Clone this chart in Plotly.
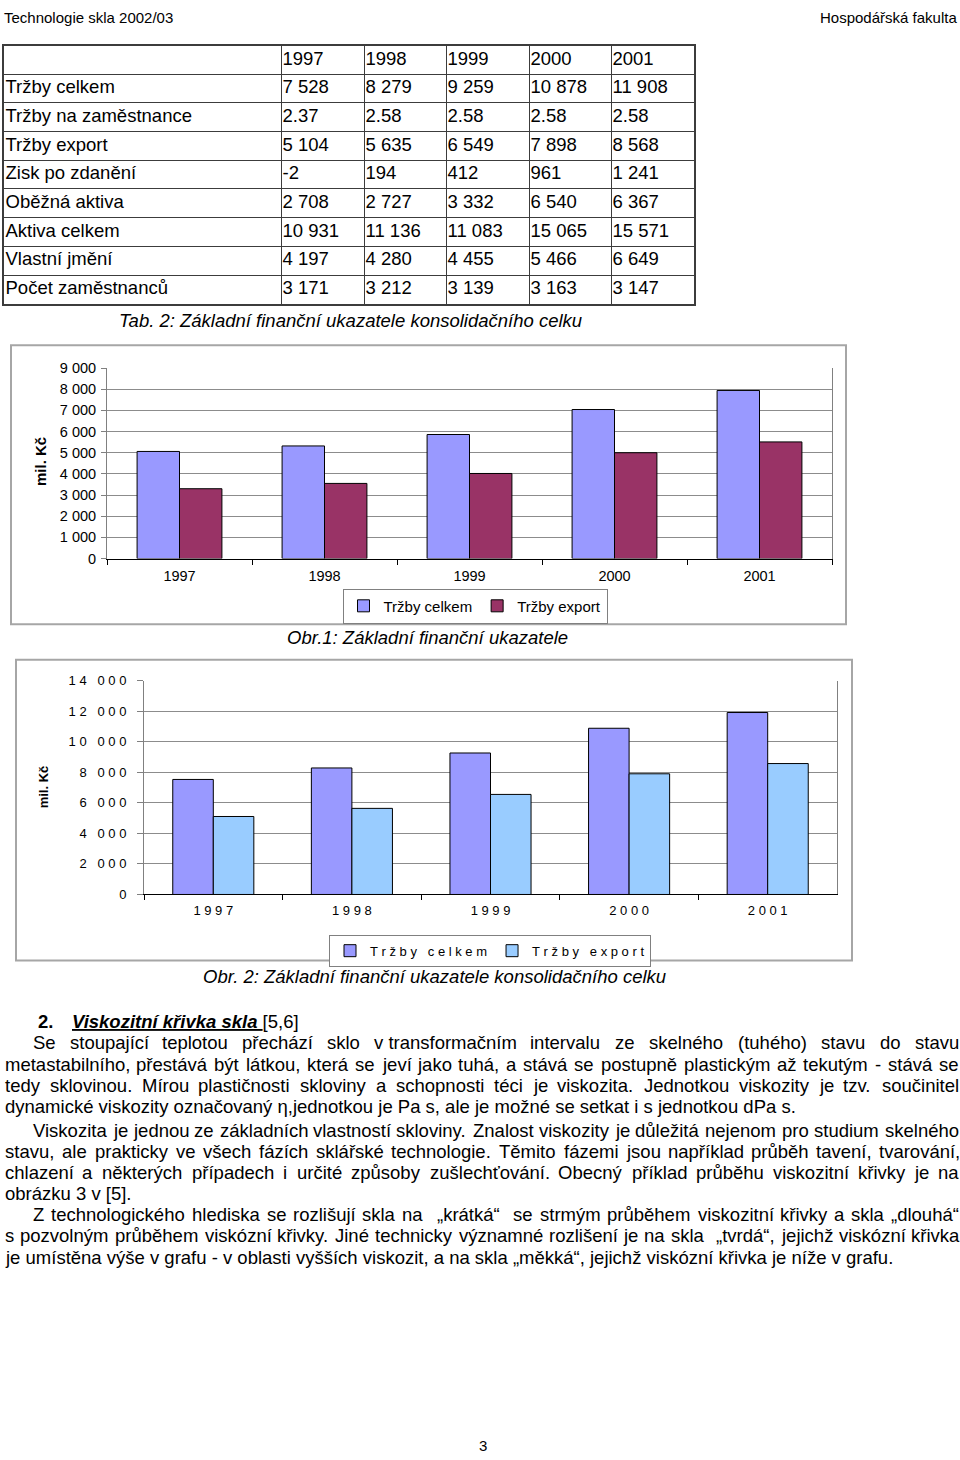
import unicodedata
import plotly.graph_objects as go

W, H = 960, 1460
FONT = "Liberation Sans, Arial, sans-serif"

# ---------------- data ----------------
years = ["1997", "1998", "1999", "2000", "2001"]
row_labels = ["Tržby celkem", "Tržby na zaměstnance", "Tržby export", "Zisk po zdanění",
              "Oběžná aktiva", "Aktiva celkem", "Vlastní jmění", "Počet zaměstnanců"]
trzby_celkem = [7528, 8279, 9259, 10878, 11908]
trzby_na_zamestnance = [2.37, 2.58, 2.58, 2.58, 2.58]
trzby_export = [5104, 5635, 6549, 7898, 8568]
zisk_po_zdaneni = [-2, 194, 412, 961, 1241]
obezna_aktiva = [2708, 2727, 3332, 6540, 6367]
aktiva_celkem = [10931, 11136, 11083, 15065, 15571]
vlastni_jmeni = [4197, 4280, 4455, 5466, 6649]
pocet_zamestnancu = [3171, 3212, 3139, 3163, 3147]

# chart 1 (values as drawn in Obr. 1)
obr1_celkem = [5060, 5320, 5860, 7040, 7940]
obr1_export = [3300, 3550, 4020, 5000, 5510]

obr1_ticks = [0, 1000, 2000, 3000, 4000, 5000, 6000, 7000, 8000, 9000]
obr1_ticktext = ["0", "1 000", "2 000", "3 000", "4 000", "5 000", "6 000", "7 000", "8 000", "9 000"]
obr2_ticks = [0, 2000, 4000, 6000, 8000, 10000, 12000, 14000]
obr2_ticktext = ["0", "2 000", "4 000", "6 000", "8 000", "10 000", "12 000", "14 000"]

series_names = ["Tržby celkem", "Tržby export"]

# ---------------- helpers ----------------
ARIAL = {
    'a': 556, 'b': 556, 'c': 500, 'd': 556, 'e': 556, 'f': 278, 'g': 556, 'h': 556, 'i': 222,
    'j': 222, 'k': 500, 'l': 222, 'm': 833, 'n': 556, 'o': 556, 'p': 556, 'q': 556, 'r': 333,
    's': 500, 't': 278, 'u': 556, 'v': 500, 'w': 722, 'x': 500, 'y': 500, 'z': 500,
    'A': 667, 'B': 667, 'C': 722, 'D': 722, 'E': 667, 'F': 611, 'G': 778, 'H': 722, 'I': 278,
    'J': 500, 'K': 667, 'L': 556, 'M': 833, 'N': 722, 'O': 778, 'P': 667, 'Q': 778, 'R': 722,
    'S': 667, 'T': 611, 'U': 722, 'V': 667, 'W': 944, 'X': 667, 'Y': 667, 'Z': 611,
    ' ': 278, '\u00a0': 278, '.': 278, ',': 278, '-': 333, '(': 333, ')': 333, '[': 278, ']': 278,
    ':': 278, '„': 333, '“': 333, '/': 278, 'η': 556, 'ť': 367, 'ď': 615,
}
for d in "0123456789":
    ARIAL[d] = 556


def cw(c):
    if c in ARIAL:
        return ARIAL[c]
    base = unicodedata.normalize('NFD', c)[0]
    return ARIAL.get(base, 556)


def tw(s, size):
    return sum(cw(c) for c in s) * size / 1000.0


def spaced(s):
    return "\u00a0".join("\u00a0" if c == " " else c for c in s)


def fmt(v):
    if isinstance(v, float):
        return f"{v:.2f}"
    return f"{v:,}".replace(",", " ")


annotations = []


def ann(text, x, y, size=18.5, xanchor='left', yanchor='middle', **kw):
    annotations.append(dict(text=text, x=x / W, y=1 - y / H, xref='paper', yref='paper',
                            xanchor=xanchor, yanchor=yanchor, showarrow=False, borderpad=0,
                            font=dict(family=FONT, size=size, color='black'), **kw))


def justify(line, left, right, y, size=18.5):
    words = line.split(' ')
    wsum = sum(tw(w, size) for w in words)
    sp = (right - left - wsum) / (len(words) - 1)
    x = left
    for w in words:
        if w:
            ann(w, x, y, size)
        x += tw(w, size) + sp


fig = go.Figure()

# ---------------- table (drawn on its own axes) ----------------
col_widths = [277, 83, 82, 83, 82, 83]
col_edges = [0]
for cwid in col_widths:
    col_edges.append(col_edges[-1] + cwid)
table_rows = [[""] + years] + [[lab] + [fmt(v) for v in vals] for lab, vals in zip(row_labels, [
    trzby_celkem, trzby_na_zamestnance, trzby_export, zisk_po_zdaneni,
    obezna_aktiva, aktiva_celkem, vlastni_jmeni, pocet_zamestnancu])]
tx, ty, tt = [], [], []
for i, row in enumerate(table_rows):
    for j, cell in enumerate(row):
        if cell:
            tx.append(col_edges[j] + 1.5)
            ty.append(i + 0.5)
            tt.append(cell)
fig.add_trace(go.Scatter(x=tx, y=ty, text=tt, mode='text', textposition='middle right',
                         textfont=dict(family=FONT, size=18.5, color='black'),
                         xaxis='x3', yaxis='y3', showlegend=False, hoverinfo='skip',
                         cliponaxis=False))

# ---------------- chart 1 ----------------
fig.add_trace(go.Bar(x=years, y=obr1_celkem, name=series_names[0], xaxis='x', yaxis='y',
                     marker=dict(color='#9999FF', line=dict(color='#000000', width=1)),
                     legend='legend'))
fig.add_trace(go.Bar(x=years, y=obr1_export, name=series_names[1], xaxis='x', yaxis='y',
                     marker=dict(color='#993366', line=dict(color='#000000', width=1)),
                     legend='legend'))

# ---------------- chart 2 ----------------
fig.add_trace(go.Bar(x=years, y=trzby_celkem, name=spaced(series_names[0]), xaxis='x2', yaxis='y2',
                     marker=dict(color='#9999FF', line=dict(color='#000000', width=1)),
                     legend='legend2'))
fig.add_trace(go.Bar(x=years, y=trzby_export, name=spaced(series_names[1]), xaxis='x2', yaxis='y2',
                     marker=dict(color='#99CCFF', line=dict(color='#000000', width=1)),
                     legend='legend2'))


def px_x(a, b):
    return [a / W, b / W]


def px_y(top, bottom):
    return [1 - bottom / H, 1 - top / H]


axis_font = dict(family=FONT, size=14.5, color='black')
axis_font2 = dict(family=FONT, size=13, color='black')

# ---------------- text ----------------
ann("Technologie skla 2002/03", 3, 0, 15, yanchor='top')
ann("Hospodářská fakulta", 958, 0, 15, xanchor='right', yanchor='top')
ann("<i>Tab. 2: Základní finanční ukazatele konsolidačního celku</i>", 350, 316, 18.5, xanchor='center')
ann("<i>Obr.1: Základní finanční ukazatele</i>", 427, 636, 18.5, xanchor='center')
ann("<i>Obr. 2: Základní finanční ukazatele konsolidačního celku</i>", 434, 979, 18.5, xanchor='center')
ann("<b>mil. Kč</b>", 41, 459, 15, xanchor='center', textangle=-90)
ann("<b>mil. Kč</b>", 43, 788, 13, xanchor='center', textangle=-90)

ann("<b>2.</b>", 37, 1025, 18.5)
ann("<b><i><span style='text-decoration:underline'>Viskozitní křivka skla </span></i></b>[5,6]", 71, 1025, 18.5)

RIGHT = 958
justify("Se stoupající teplotou přechází sklo v\u00a0transformačním intervalu ze skelného (tuhého) stavu do stavu", 32, RIGHT, 1046)
justify("metastabilního, přestává být látkou, která se jeví jako tuhá, a stává se postupně plastickým až tekutým - stává se", 4, RIGHT, 1068)
justify("tedy sklovinou. Mírou plastičnosti skloviny a schopnosti téci je viskozita. Jednotkou viskozity je tzv. součinitel", 4, RIGHT, 1089)
ann("dynamické viskozity označovaný η,jednotkou je Pa s, ale je možné se setkat i s jednotkou dPa s.", 4, 1111)
justify("Viskozita je jednou ze základních vlastností skloviny. Znalost viskozity je důležitá nejenom pro studium skelného", 32, RIGHT, 1135)
justify("stavu, ale prakticky ve všech fázích sklářské technologie. Těmito fázemi jsou například průběh tavení, tvarování,", 4, RIGHT, 1156)
justify("chlazení a některých případech i určité způsoby zušlechťování. Obecný příklad průběhu viskozitní křivky je na", 4, RIGHT, 1177)
ann("obrázku 3 v [5].", 4, 1199)
justify("Z technologického hlediska se rozlišují skla na  „krátká“  se strmým průběhem viskozitní křivky a skla „dlouhá“", 32, RIGHT, 1220)
justify("s pozvolným průběhem viskózní křivky. Jiné technicky významné rozlišení je na skla  „tvrdá“, jejichž viskózní křivka", 4, RIGHT, 1241)
ann("je umístěna výše v\u00a0grafu - v oblasti vyšších viskozit, a na skla „měkká“, jejichž viskózní křivka je níže v\u00a0grafu.", 4, 1263)
ann("3", 483, 1453, 15, xanchor='center')

shapes = [
    dict(type='rect', xref='paper', yref='paper', x0=11 / W, x1=846 / W, y0=1 - 623 / H, y1=1 - 341 / H,
         line=dict(color='#a6a6a6', width=2), layer='below'),
    dict(type='rect', xref='paper', yref='paper', x0=16 / W, x1=852 / W, y0=1 - 963 / H, y1=1 - 659 / H,
         line=dict(color='#a6a6a6', width=2), layer='below'),
]

fig.update_layout(
    width=W, height=H, margin=dict(l=0, r=0, t=0, b=0),
    paper_bgcolor='white', plot_bgcolor='white',
    barmode='group', bargap=0.415, bargroupgap=0,
    font=dict(family=FONT, color='black'),
    showlegend=True,
    xaxis=dict(domain=px_x(107, 832), anchor='y', type='category', tickson='boundaries',
               ticks='outside', ticklen=5, tickcolor='#000', showline=True, linecolor='#000',
               linewidth=1, showgrid=False, tickfont=axis_font, ticklabelstandoff=4, fixedrange=True),
    yaxis=dict(domain=px_y(364, 556.7), anchor='x', range=[0, 9000], tickvals=obr1_ticks,
               ticktext=obr1_ticktext, ticks='outside', ticklen=5, tickcolor='#808080',
               showline=True, linecolor='#808080', mirror=True, gridcolor='#8c8c8c', gridwidth=1,
               zeroline=False, tickfont=axis_font, ticklabelstandoff=2),
    xaxis2=dict(domain=px_x(144, 837), anchor='y2', type='category', tickson='boundaries',
                ticks='outside', ticklen=5, tickcolor='#000', showline=True, linecolor='#000',
                linewidth=1, showgrid=False, tickfont=axis_font2, ticklabelstandoff=4,
                tickvals=years, ticktext=[spaced(y) for y in years]),
    yaxis2=dict(domain=px_y(680, 896.3), anchor='x2', range=[0, 14000], tickvals=obr2_ticks,
                ticktext=[spaced(t) for t in obr2_ticktext], ticks='outside', ticklen=6,
                tickcolor='#808080', showline=True, linecolor='#808080', mirror=True,
                gridcolor='#8c8c8c', gridwidth=1, zeroline=False, tickfont=axis_font2,
                ticklabelstandoff=8),
    xaxis3=dict(domain=px_x(4, 694), anchor='y3', range=[0, col_edges[-1]], tickvals=col_edges,
                showticklabels=False, ticks='', showgrid=True, gridcolor='#3c3c3c', gridwidth=1.3,
                showline=True, mirror=True, linecolor='#3c3c3c', linewidth=2, zeroline=False),
    yaxis3=dict(domain=px_y(38, 299), anchor='x3', range=[len(table_rows), 0],
                tickvals=list(range(len(table_rows) + 1)), showticklabels=False, ticks='',
                showgrid=True, gridcolor='#3c3c3c', gridwidth=1.3, showline=True, mirror=True,
                linecolor='#3c3c3c', linewidth=2, zeroline=False),
    legend=dict(orientation='h', x=475 / W, xanchor='center', y=1 - 587 / H, yanchor='top',
                bordercolor='#808080', borderwidth=1, font=dict(family=FONT, size=15, color='black'),
                itemwidth=30, bgcolor='white'),
    legend2=dict(orientation='h', x=490 / W, xanchor='center', y=1 - 937 / H, yanchor='top',
                 bordercolor='#808080', borderwidth=1, font=dict(family=FONT, size=13, color='black'),
                 itemwidth=30, bgcolor='white'),
    annotations=annotations,
    shapes=shapes,
)

page_css = ("var s=document.documentElement.style;s.margin='0';s.padding='0';s.overflow='hidden';"
            "var b=document.body.style;b.margin='0';b.padding='0';b.overflow='hidden';")
fig.write_html("out.html", config={'displayModeBar': False}, post_script=page_css)
